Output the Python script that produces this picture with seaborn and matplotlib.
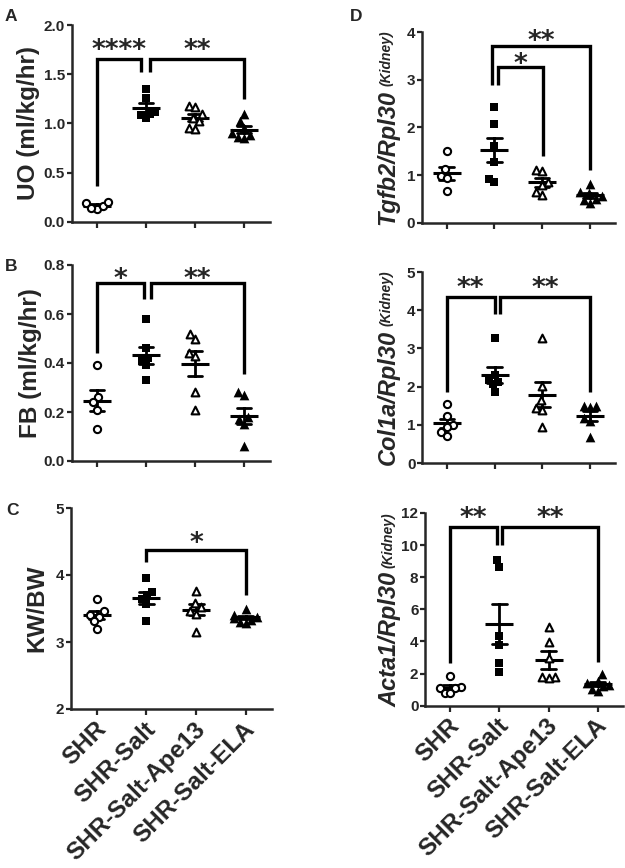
import numpy as np
import pandas as pd
import matplotlib
matplotlib.use("Agg")
import matplotlib.pyplot as plt
import matplotlib.transforms as mtransforms
import seaborn as sns

# ---------------- data ----------------
groups = ["SHR", "SHR-Salt", "SHR-Salt-Ape13", "SHR-Salt-ELA"]

# A: urine output (ml/kg/hr)
uo_shr = [0.19, 0.13, 0.14, 0.16, 0.20]
uo_salt = [1.35, 1.26, 1.12, 1.08, 1.05, 1.10]
uo_ape13 = [1.18, 1.17, 1.10, 1.05, 0.95, 0.94, 1.02]
uo_ela = [1.09, 1.02, 0.95, 0.90, 0.86, 0.85, 0.88]

# B: fluid balance (ml/kg/hr)
fb_shr = [0.39, 0.26, 0.24, 0.21, 0.13]
fb_salt = [0.58, 0.46, 0.42, 0.41, 0.39, 0.33]
fb_ape13 = [0.52, 0.50, 0.44, 0.43, 0.28, 0.21]
fb_ela = [0.28, 0.27, 0.18, 0.17, 0.15, 0.06]

# C: kidney weight / body weight
kw_shr = [3.64, 3.46, 3.41, 3.38, 3.31, 3.19]
kw_salt = [3.96, 3.75, 3.70, 3.64, 3.56, 3.31]
kw_ape13 = [3.76, 3.58, 3.52, 3.47, 3.42, 3.15]
kw_ela = [3.50, 3.41, 3.38, 3.36, 3.33, 3.30, 3.28]

# D: Tgfb2/Rpl30 (kidney)
tg_shr = [1.50, 1.12, 0.97, 0.93, 0.66]
tg_salt = [2.42, 2.06, 1.60, 1.27, 0.92, 0.86]
tg_ape13 = [1.10, 1.09, 0.85, 0.80, 0.65, 0.58]
tg_ela = [0.82, 0.64, 0.62, 0.55, 0.48, 0.42, 0.50]

# E: Col1a/Rpl30 (kidney)
co_shr = [1.55, 1.22, 1.00, 0.95, 0.80, 0.70]
co_salt = [3.28, 2.30, 2.18, 2.12, 2.06, 1.85]
co_ape13 = [3.27, 2.02, 1.65, 1.43, 1.40, 0.95]
co_ela = [1.50, 1.49, 1.47, 1.17, 1.10, 0.68]

# F: Acta1/Rpl30 (kidney)
ac_shr = [1.82, 1.15, 1.12, 1.10, 0.80, 0.78]
ac_salt = [9.08, 8.62, 4.32, 3.80, 2.65, 2.10]
ac_ape13 = [4.90, 3.97, 2.95, 1.80, 1.75, 1.78]
ac_ela = [1.95, 1.55, 1.40, 1.30, 1.20, 1.05, 0.90]

# significance brackets: (x_left, x_right, y_left_leg, y_top, y_right_leg)
br_a = [(0, 0.9, 0.36, 1.65, 1.52), (1.09, 3, 1.52, 1.65, 1.25)]
br_b = [(0, 0.95, 0.44, 0.725, 0.66), (1.1, 3, 0.66, 0.725, 0.355)]
br_c = [(1, 3, 4.20, 4.38, 3.70)]
br_d = [(0.94, 3, 2.89, 3.71, 1.10), (1.08, 2.02, 2.89, 3.27, 1.40)]
br_e = [(0, 1.0, 1.87, 4.34, 3.90), (1.12, 3, 3.90, 4.34, 1.87)]
br_f = [(0, 0.95, 2.64, 11.15, 10.0), (1.06, 3, 10.0, 11.15, 2.70)]
# star labels: (x, y, text)
st_a = [(0.45, 1.79, "****"), (2.05, 1.79, "**")]
st_b = [(0.47, 0.763, "*"), (2.05, 0.763, "**")]
st_c = [(2.0, 4.55, "*")]
st_d = [(1.97, 3.91, "**"), (1.55, 3.43, "*")]
st_e = [(0.5, 4.69, "**"), (2.06, 4.69, "**")]
st_f = [(0.47, 12.0, "**"), (2.03, 12.0, "**")]

# ---------------- styling ----------------
sns.set_theme(style="ticks")
plt.rcParams["font.family"] = ["Liberation Sans", "DejaVu Sans"]
plt.rcParams["font.weight"] = "bold"
plt.rcParams["axes.linewidth"] = 1.8

W, H = 625, 868
fig = plt.figure(figsize=(W / 100, H / 100), dpi=100)

marker_styles = [
    dict(marker="o", size=5.2, color="white", edgecolor="black", linewidth=1.5),
    dict(marker="s", size=6.0, color="black", edgecolor="black", linewidth=0),
    dict(marker="^", size=5.6, color="white", edgecolor="black", linewidth=1.5),
    dict(marker="^", size=7.0, color="black", edgecolor="black", linewidth=0),
]

SQUEEZE = 0.6  # tighter horizontal spread of the swarm, like the reference


def squeeze_swarm(coll, f=SQUEEZE):
    orig = coll.set_offsets

    def set_offsets(xy):
        xy = np.asarray(xy, float).copy()
        if xy.ndim == 2 and len(xy):
            c = np.round(xy[:, 0])
            xy[:, 0] = c + (xy[:, 0] - c) * f
        orig(xy)

    coll.set_offsets = set_offsets


panels = [
    dict(letter="A", vals=[uo_shr, uo_salt, uo_ape13, uo_ela], ylabel="UO (ml/kg/hr)",
         ylim=(0, 2), yticks=[0, 0.5, 1.0, 1.5, 2.0], fmt="{:.1f}", rect=(71.5, 25, 269.5, 221.7),
         br=br_a, st=st_a, xlab=False, right=False, lab_x=35.5, letter_xy=(5, 21)),
    dict(letter="B", vals=[fb_shr, fb_salt, fb_ape13, fb_ela], ylabel="FB (ml/kg/hr)",
         ylim=(0, 0.8), yticks=[0, 0.2, 0.4, 0.6, 0.8], fmt="{:.1f}", rect=(71.5, 265, 269.5, 461),
         br=br_b, st=st_b, xlab=False, right=False, lab_x=36.5, letter_xy=(5, 271)),
    dict(letter="C", vals=[kw_shr, kw_salt, kw_ape13, kw_ela], ylabel="KW/BW",
         ylim=(2, 5), yticks=[2, 3, 4, 5], fmt="{:.0f}", rect=(71, 508, 271.5, 709),
         br=br_c, st=st_c, xlab=True, right=False, lab_x=43, letter_xy=(6, 515)),
    dict(letter="D", vals=[tg_shr, tg_salt, tg_ape13, tg_ela], ylabel="Tgfb2/Rpl30",
         ylim=(0, 4), yticks=[0, 1, 2, 3, 4], fmt="{:.0f}", rect=(421.7, 32, 615, 222.7),
         br=br_d, st=st_d, xlab=False, right=True, lab_x=394, letter_xy=(350, 21)),
    dict(letter="", vals=[co_shr, co_salt, co_ape13, co_ela], ylabel="Col1a/Rpl30",
         ylim=(0, 5), yticks=[0, 1, 2, 3, 4, 5], fmt="{:.0f}", rect=(422, 272, 615, 463),
         br=br_e, st=st_e, xlab=False, right=True, lab_x=395, letter_xy=None),
    dict(letter="", vals=[ac_shr, ac_salt, ac_ape13, ac_ela], ylabel="Acta1/Rpl30",
         ylim=(0, 12), yticks=[0, 2, 4, 6, 8, 10, 12], fmt="{:.0f}", rect=(425, 513, 623, 705.7),
         br=br_f, st=st_f, xlab=True, right=True, lab_x=396, letter_xy=None),
]

right_labels = []

for p in panels:
    l, t, r, b = p["rect"]
    ax = fig.add_axes([l / W, 1 - b / H, (r - l) / W, (b - t) / H])
    df = pd.DataFrame({
        "group": np.concatenate([[g] * len(v) for g, v in zip(groups, p["vals"])]),
        "value": np.concatenate([np.asarray(v, float) for v in p["vals"]]),
    })
    for g, ms in zip(groups, marker_styles):
        n_before = len(ax.collections)
        sns.swarmplot(data=df[df["group"] == g], x="group", y="value", order=groups,
                      ax=ax, **ms)
        for coll in ax.collections[n_before:]:
            squeeze_swarm(coll)
    sns.pointplot(data=df, x="group", y="value", order=groups, errorbar="se",
                  markers="_", linestyle="none", color="black", capsize=0.3,
                  markersize=20, markeredgewidth=2.2,
                  err_kws={"linewidth": 2.0}, ax=ax)
    # brackets
    for (x1, x2, y1, yt, y2) in p["br"]:
        ax.plot([x1, x1, x2, x2], [y1, yt, yt, y2], color="black", lw=2.4,
                solid_joinstyle="miter", solid_capstyle="butt", clip_on=False, zorder=3)
    for (x, y, s) in p["st"]:
        ax.annotate(s, (x, y), xytext=(0, -4), textcoords="offset points",
                    ha="center", va="center", fontsize=19, family="DejaVu Sans",
                    fontweight="bold", annotation_clip=False)
    ax.set_xlim(-0.52, 3.52)
    ax.set_ylim(*p["ylim"])
    ax.set_yticks(p["yticks"])
    ax.set_yticklabels([p["fmt"].format(v) for v in p["yticks"]])
    ax.set_xticks(range(len(groups)))
    ax.set_xlabel("")
    ax.set_ylabel("")
    sns.despine(ax=ax)
    ax.tick_params(axis="y", direction="out", width=1.6, length=3.5, pad=1.2,
                   labelsize=11)
    ax.tick_params(axis="x", direction="out", width=1.6, length=4, pad=2,
                   labelsize=17.5)
    if p["xlab"]:
        ax.set_xticklabels(groups)
        off = mtransforms.ScaledTranslation(4 / 72, -6 / 72, fig.dpi_scale_trans)
        for lbl in ax.get_xticklabels():
            lbl.set_rotation(45)
            lbl.set_ha("right")
            lbl.set_va("center")
            lbl.set_rotation_mode("anchor")
            lbl.set_fontweight("bold")
            lbl.set_transform(lbl.get_transform() + off)
    else:
        ax.set_xticklabels([])
    for lbl in ax.get_yticklabels():
        lbl.set_fontweight("bold")

    yc = 1 - (t + b) / 2 / H
    if not p["right"]:
        fig.text(p["lab_x"] / W, yc, p["ylabel"], rotation=90, rotation_mode="anchor",
                 ha="center", va="baseline", fontsize=17.5, fontweight="bold")
    else:
        t1 = fig.text(p["lab_x"] / W, yc, p["ylabel"], rotation=90, rotation_mode="anchor",
                      ha="left", va="baseline", fontsize=17, fontweight="bold",
                      fontstyle="italic")
        t2 = fig.text((p["lab_x"] - 4) / W, yc, "(Kidney)", rotation=90,
                      rotation_mode="anchor", ha="left", va="baseline", fontsize=10,
                      fontweight="bold", fontstyle="italic")
        right_labels.append((t1, t2, (t + b) / 2))
    if p["letter_xy"]:
        fig.text(p["letter_xy"][0] / W, 1 - p["letter_xy"][1] / H, p["letter"],
                 fontsize=12.5, fontweight="bold", ha="left", va="baseline")

# centre the two-part right-hand labels on their axes
fig.canvas.draw()
gap = 4
for t1, t2, cpx in right_labels:
    h1 = t1.get_window_extent().height
    h2 = t2.get_window_extent().height
    total = h1 + gap + h2
    start = (H - cpx) - total / 2
    t1.set_y(start / H)
    t2.set_y((start + h1 + gap) / H)

fig.savefig("out.png", dpi=100, facecolor="white")
